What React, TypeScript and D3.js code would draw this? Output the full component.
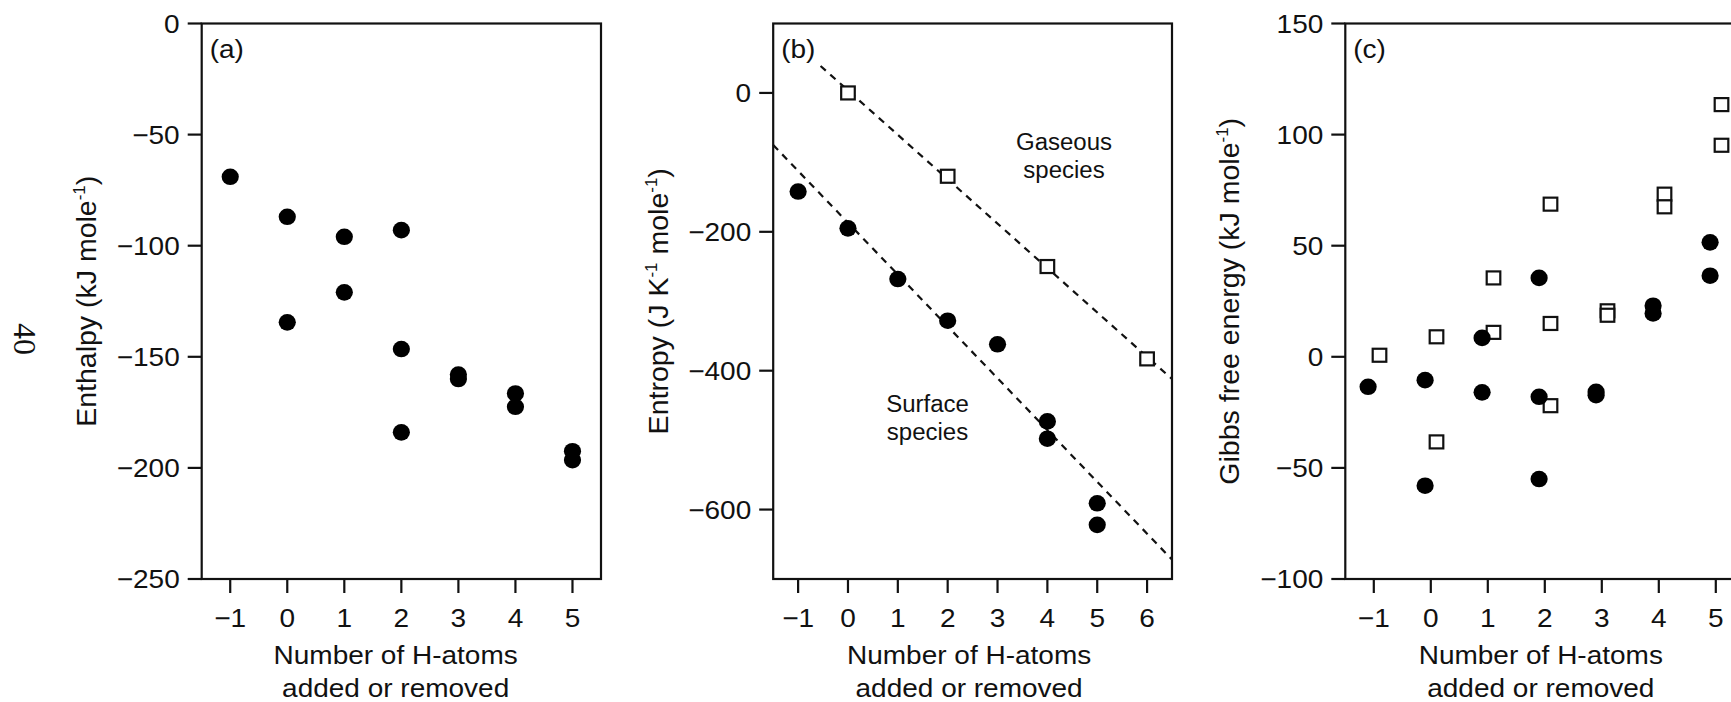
import React from "react";
import * as d3 from "d3";

// ---------- data ----------
const hAtomTicksA = [-1, 0, 1, 2, 3, 4, 5];
const hAtomTicksB = [-1, 0, 1, 2, 3, 4, 5, 6];
const hAtomTicksC = [-1, 0, 1, 2, 3, 4, 5];

const enthalpyTicks = [0, -50, -100, -150, -200, -250];
const entropyTicks = [0, -200, -400, -600];
const gibbsTicks = [150, 100, 50, 0, -50, -100];

const enthalpyX = [-1, 0, 0, 1, 1, 2, 2, 2, 3, 3, 4, 4, 5, 5];
const enthalpyY = [-69, -87, -134.5, -96, -121, -93, -146.5, -184, -158, -160, -166.5, -172.5, -192.5, -196.5];

const entropySurfaceX = [-1, 0, 1, 2, 3, 4, 4, 5, 5];
const entropySurfaceY = [-142, -195, -268, -328, -362, -473, -498, -591, -622];
const entropyGasX = [0, 2, 4, 6];
const entropyGasY = [0, -120, -250, -383];

// dashed fit lines: [x0, y0, x1, y1]
const surfaceFit = [-1.5, -75, 6.5, -672];
const gasFit = [-0.55, 38.8, 6.5, -412];

const gibbsSurfaceX = [-1, 0, 0, 1, 1, 2, 2, 2, 3, 3, 4, 4, 5, 5];
const gibbsSurfaceY = [-13.5, -10.5, -58, 8.5, -16, 35.5, -18, -55, -15.8, -17.3, 23, 19.5, 51.5, 36.5];
const gibbsGasX = [-1, 0, 0, 1, 1, 2, 2, 2, 3, 3, 4, 4, 5, 5];
const gibbsGasY = [0.7, 9, -38.3, 35.5, 11, 68.7, 15, -22, 20.7, 18.7, 73.2, 67.5, 113.5, 95.2];

const FONT = "'Liberation Sans', Arial, sans-serif";
const TOP = 23.5;
const BOTTOM = 579;
const SQUASH = 0.92;

function T({
  x,
  y,
  anchor = "start",
  size = 28,
  sy = SQUASH,
  children,
}: {
  x: number;
  y: number;
  anchor?: string;
  size?: number;
  sy?: number;
  children: React.ReactNode;
}) {
  return (
    <text
      transform={`translate(${x},${y}) scale(1,${sy})`}
      textAnchor={anchor}
      fontSize={size}
      fontFamily={FONT}
      fill="#111"
    >
      {children}
    </text>
  );
}

type PanelProps = {
  left: number;
  right: number;
  xDomain: [number, number];
  yDomain: [number, number];
  xTicks: number[];
  yTicks: number[];
  label: string;
  titleX: number;
  xTitleCenter: number;
  yTitle: React.ReactNode;
  children: (x: d3.ScaleLinear<number, number>, y: d3.ScaleLinear<number, number>) => React.ReactNode;
};

const fmt = d3.format("");

function Panel(p: PanelProps) {
  const x = d3.scaleLinear().domain(p.xDomain).range([p.left, p.right]);
  const y = d3.scaleLinear().domain(p.yDomain).range([BOTTOM, TOP]);
  const midY = (TOP + BOTTOM) / 2;
  return (
    <g>
      <rect x={p.left} y={TOP} width={p.right - p.left} height={BOTTOM - TOP} fill="none" stroke="#111" strokeWidth={2.2} />
      {p.yTicks.map((t) => (
        <g key={"y" + t}>
          <line x1={p.left - 14} x2={p.left} y1={y(t)} y2={y(t)} stroke="#111" strokeWidth={2.2} />
          <T x={p.left - 22} y={y(t) + 9.2} anchor="end">
            {fmt(t)}
          </T>
        </g>
      ))}
      {p.xTicks.map((t) => (
        <g key={"x" + t}>
          <line x1={x(t)} x2={x(t)} y1={BOTTOM} y2={BOTTOM + 14} stroke="#111" strokeWidth={2.2} />
          <T x={x(t)} y={626.7} anchor="middle">
            {fmt(t)}
          </T>
        </g>
      ))}
      <T x={p.left + 8} y={57.5}>{p.label}</T>
      <T x={x(p.xTitleCenter)} y={664} anchor="middle">
        Number of H-atoms
      </T>
      <T x={x(p.xTitleCenter)} y={697} anchor="middle">
        added or removed
      </T>
      <text
        transform={`translate(${p.titleX},${midY}) rotate(-90)`}
        textAnchor="middle"
        fontSize={28.5}
        fontFamily={FONT}
        fill="#111"
      >
        {p.yTitle}
      </text>
      {p.children(x, y)}
    </g>
  );
}

function Dot({ cx, cy }: { cx: number; cy: number }) {
  return <ellipse cx={cx} cy={cy} rx={8.6} ry={8.3} fill="#000" />;
}
function Sq({ cx, cy }: { cx: number; cy: number }) {
  return <rect x={cx - 6.8} y={cy - 6.5} width={13.6} height={13} fill="#fff" stroke="#111" strokeWidth={2.2} />;
}

export default function App() {
  return (
    <svg
      width={1731}
      height={702}
      style={{ position: "absolute", left: 0, top: 0, background: "#fff" }}
    >
      <rect width={1731} height={702} fill="#fff" />
      <text
        transform="translate(13.5,339) rotate(90)"
        textAnchor="middle"
        fontSize={32}
        fontFamily="'Liberation Serif', 'Times New Roman', serif"
        fill="#111"
      >
        40
      </text>

      {/* (a) Enthalpy */}
      <Panel
        left={201.7}
        right={601}
        xDomain={[-1.5, 5.5]}
        yDomain={[-250, 0]}
        xTicks={hAtomTicksA}
        yTicks={enthalpyTicks}
        label="(a)"
        titleX={95.5}
        xTitleCenter={1.9}
        yTitle={
          <>
            <tspan>Enthalpy (kJ mole</tspan>
            <tspan dy={-11} fontSize={17}>-1</tspan>
            <tspan dy={11}>)</tspan>
          </>
        }
      >
        {(x, y) => enthalpyX.map((v, i) => <Dot key={i} cx={x(v)} cy={y(enthalpyY[i])} />)}
      </Panel>

      {/* (b) Entropy */}
      <Panel
        left={773.2}
        right={1172}
        xDomain={[-1.5, 6.5]}
        yDomain={[-700, 100]}
        xTicks={hAtomTicksB}
        yTicks={entropyTicks}
        label="(b)"
        titleX={668}
        xTitleCenter={2.43}
        yTitle={
          <>
            <tspan>Entropy (J K</tspan>
            <tspan dy={-11} fontSize={17}>-1</tspan>
            <tspan dy={11}> mole</tspan>
            <tspan dy={-11} fontSize={17}>-1</tspan>
            <tspan dy={11}>)</tspan>
          </>
        }
      >
        {(x, y) => (
          <>
            <line x1={x(surfaceFit[0])} y1={y(surfaceFit[1])} x2={x(surfaceFit[2])} y2={y(surfaceFit[3])} stroke="#111" strokeWidth={2.2} strokeDasharray="7,6" />
            <line x1={x(gasFit[0])} y1={y(gasFit[1])} x2={x(gasFit[2])} y2={y(gasFit[3])} stroke="#111" strokeWidth={2.2} strokeDasharray="7,6" />
            {entropySurfaceX.map((v, i) => <Dot key={"s" + i} cx={x(v)} cy={y(entropySurfaceY[i])} />)}
            {entropyGasX.map((v, i) => <Sq key={"g" + i} cx={x(v)} cy={y(entropyGasY[i])} />)}
            <T x={1064} y={150} anchor="middle" size={24} sy={0.96}>Gaseous</T>
            <T x={1064} y={177.5} anchor="middle" size={24} sy={0.96}>species</T>
            <T x={927.5} y={411.5} anchor="middle" size={24} sy={0.96}>Surface</T>
            <T x={927.5} y={440} anchor="middle" size={24} sy={0.96}>species</T>
          </>
        )}
      </Panel>

      {/* (c) Gibbs */}
      <Panel
        left={1345.3}
        right={1744.3}
        xDomain={[-1.5, 5.5]}
        yDomain={[-100, 150]}
        xTicks={hAtomTicksC}
        yTicks={gibbsTicks}
        label="(c)"
        titleX={1239}
        xTitleCenter={1.93}
        yTitle={
          <>
            <tspan>Gibbs free energy (kJ mole</tspan>
            <tspan dy={-11} fontSize={17}>-1</tspan>
            <tspan dy={11}>)</tspan>
          </>
        }
      >
        {(x, y) => (
          <>
            {gibbsGasX.map((v, i) => <Sq key={"g" + i} cx={x(v + 0.1)} cy={y(gibbsGasY[i])} />)}
            {gibbsSurfaceX.map((v, i) => <Dot key={"s" + i} cx={x(v - 0.1)} cy={y(gibbsSurfaceY[i])} />)}
          </>
        )}
      </Panel>
    </svg>
  );
}
